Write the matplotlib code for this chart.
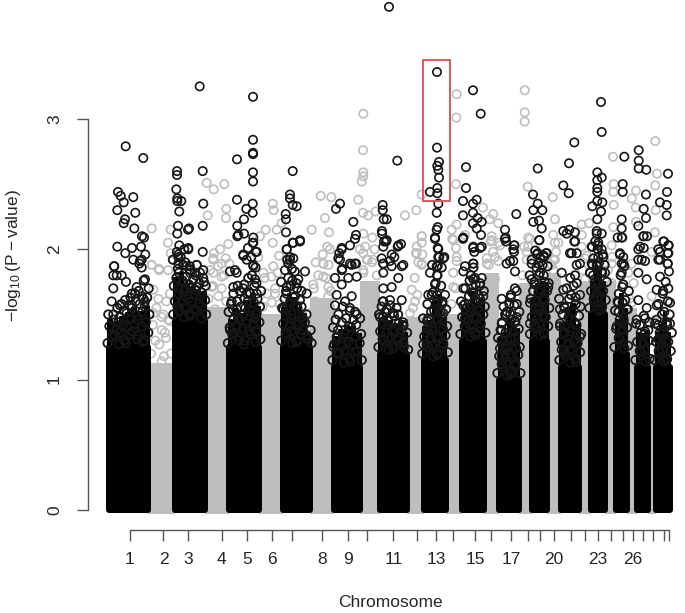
import numpy as np
import matplotlib
matplotlib.use('Agg')
import matplotlib.pyplot as plt

plt.rcParams['font.family'] = ['Liberation Sans', 'DejaVu Sans']
plt.rcParams['mathtext.fontset'] = 'custom'
plt.rcParams['mathtext.rm'] = 'Liberation Sans'
plt.rcParams['mathtext.default'] = 'regular'

# tick position of each chromosome (x axis is cumulative position)
chrom_ticks = [130, 163.5, 188.5, 221.7, 247, 272, 292.5, 322, 348.5, 367, 393.5, 416.7, 436.4, 453, 475.3,
               491.5, 511, 528, 539.6, 553.6, 570.6, 585.5, 598, 611, 623, 632.7, 643, 653, 664, 669]
chrom_labels = ['1', '2', '3', '4', '5', '6', '', '8', '9', '', '11', '', '13', '', '15',
                '', '17', '', '', '20', '', '', '23', '', '', '26', '', '', '', '']

# odd chromosomes: solid part of the cloud
black_start = [106.2, 171.8, 226.5, 280, 331, 377, 421, 459, 496, 528.6, 558, 588, 613, 634, 653]
black_end = [150.6, 208, 262.3, 313.5, 363, 410, 449, 486.7, 521.6, 550.5, 582.4, 608, 630, 651.5, 673]
black_body = [1.25, 1.45, 1.25, 1.25, 1.1, 1.2, 1.15, 1.3, 1.0, 1.3, 1.1, 1.5, 1.2, 1.1, 1.1]

# even chromosomes: solid part
gray_top = [1.13, 1.56, 1.5, 1.63, 1.76, 1.48, 1.5, 1.82, 1.74, 1.82, 1.76, 1.76, 1.55, 1.2]

# rings packed above the solid part, one inner list per vertical strip of a chromosome
black_strips = [
    [[1.28, 1.33, 1.41, 1.46, 1.5], [1.27, 1.34, 1.38, 1.44, 1.5, 1.55], [1.3, 1.36, 1.42, 1.48, 1.53, 1.58],
     [1.28, 1.35, 1.4, 1.47, 1.51, 1.57, 1.63], [1.31, 1.37, 1.43, 1.49, 1.55, 1.6, 1.66],
     [1.29, 1.34, 1.41, 1.46, 1.52, 1.58, 1.62, 1.68], [1.3, 1.36, 1.44, 1.5, 1.56, 1.63, 1.7, 1.76]],
    [[1.5, 1.56, 1.6, 1.66, 1.72, 1.78, 1.85, 1.92, 1.98], [1.48, 1.53, 1.6, 1.64, 1.7, 1.76, 1.82, 1.88, 1.94, 2.0],
     [1.5, 1.55, 1.62, 1.68, 1.73, 1.79, 1.84, 1.9], [1.49, 1.54, 1.6, 1.65, 1.71, 1.77, 1.82, 1.87],
     [1.47, 1.53, 1.58, 1.64, 1.69, 1.74, 1.8], [1.5, 1.56, 1.61, 1.67, 1.72, 1.78]],
    [[1.28, 1.35, 1.4, 1.46, 1.52, 1.58], [1.3, 1.36, 1.41, 1.48, 1.54, 1.6, 1.66, 1.72],
     [1.27, 1.33, 1.4, 1.46, 1.5, 1.56, 1.62, 1.68], [1.3, 1.37, 1.43, 1.49, 1.55, 1.6, 1.67, 1.73, 1.78],
     [1.29, 1.35, 1.42, 1.47, 1.53, 1.59, 1.66, 1.72, 1.8, 1.86], [1.31, 1.37, 1.44, 1.5, 1.56, 1.62, 1.68, 1.74]],
    [[1.3, 1.36, 1.43, 1.49, 1.55, 1.62, 1.68, 1.75], [1.28, 1.35, 1.41, 1.47, 1.54, 1.6, 1.66, 1.72, 1.78, 1.85, 1.92],
     [1.3, 1.37, 1.44, 1.5, 1.57, 1.63, 1.7, 1.76, 1.83], [1.29, 1.35, 1.42, 1.48, 1.55, 1.61, 1.68, 1.74],
     [1.31, 1.38, 1.44, 1.5, 1.56], [1.28, 1.34, 1.38]],
    [[1.15, 1.2, 1.27, 1.33, 1.4, 1.46], [1.13, 1.2, 1.26, 1.32, 1.38, 1.44, 1.5, 1.56],
     [1.16, 1.22, 1.29, 1.35, 1.41, 1.47, 1.53, 1.6], [1.14, 1.21, 1.27, 1.33, 1.4, 1.46, 1.52],
     [1.15, 1.22, 1.28, 1.35, 1.42, 1.47]],
    [[1.25, 1.31, 1.37, 1.44, 1.5, 1.56], [1.23, 1.3, 1.36, 1.42, 1.48, 1.54, 1.6], [1.26, 1.32, 1.38, 1.45, 1.51, 1.57],
     [1.24, 1.3, 1.37, 1.43, 1.49, 1.55], [1.25, 1.32, 1.38, 1.44, 1.5], [1.23, 1.29, 1.36, 1.42]],
    [[1.2, 1.27, 1.33, 1.4, 1.47], [1.18, 1.25, 1.32, 1.38, 1.45, 1.52, 1.58, 1.65],
     [1.2, 1.26, 1.33, 1.4, 1.46, 1.53, 1.6, 1.67, 1.74, 1.8, 1.88],
     [1.19, 1.25, 1.32, 1.39, 1.46, 1.52, 1.58, 1.65, 1.72, 1.8, 1.86, 1.94], [1.21, 1.28, 1.34, 1.41, 1.47, 1.54, 1.6]],
    [[1.35, 1.41, 1.48, 1.54, 1.6], [1.33, 1.4, 1.46, 1.52, 1.58, 1.64, 1.7, 1.76],
     [1.36, 1.42, 1.48, 1.55, 1.61, 1.67, 1.73, 1.8, 1.86], [1.34, 1.4, 1.47, 1.53, 1.59, 1.65, 1.72, 1.78],
     [1.36, 1.43, 1.5, 1.56, 1.62, 1.68, 1.74]],
    [[1.05, 1.12, 1.18, 1.25, 1.32, 1.38, 1.44], [1.03, 1.1, 1.17, 1.24, 1.3, 1.36, 1.43, 1.5, 1.56],
     [1.06, 1.13, 1.19, 1.26, 1.32, 1.39, 1.46, 1.52, 1.58, 1.65], [1.04, 1.11, 1.17, 1.24, 1.31, 1.37, 1.44, 1.5, 1.57, 1.63, 1.7],
     [1.05, 1.12, 1.19, 1.25, 1.32, 1.39, 1.45, 1.52, 1.58]],
    [[1.35, 1.42, 1.48, 1.55, 1.62, 1.68, 1.75, 1.8], [1.34, 1.4, 1.47, 1.54, 1.6, 1.67, 1.73, 1.8, 1.86, 1.93, 1.99],
     [1.36, 1.43, 1.49, 1.56, 1.62, 1.69, 1.75, 1.82, 1.88, 1.94], [1.35, 1.41, 1.48, 1.55, 1.61, 1.68, 1.74, 1.8, 1.87, 1.95]],
    [[1.15, 1.22, 1.29, 1.36, 1.43, 1.5, 1.56, 1.62], [1.13, 1.2, 1.27, 1.34, 1.41, 1.48, 1.55, 1.62, 1.7, 1.78],
     [1.16, 1.23, 1.3, 1.37, 1.44, 1.51, 1.58, 1.65, 1.72, 1.8], [1.14, 1.21, 1.28, 1.35, 1.42, 1.49, 1.56, 1.63]],
    [[1.55, 1.62, 1.68, 1.75, 1.82, 1.88], [1.53, 1.6, 1.67, 1.74, 1.8, 1.87, 1.93, 2.0, 2.06],
     [1.56, 1.63, 1.69, 1.76, 1.83, 1.9, 1.96, 2.03], [1.54, 1.61, 1.68, 1.75, 1.82, 1.88]],
    [[1.25, 1.32, 1.39, 1.46, 1.53, 1.6], [1.24, 1.31, 1.38, 1.45, 1.52, 1.59, 1.66, 1.73, 1.8, 1.87],
     [1.26, 1.33, 1.4, 1.47, 1.54, 1.61, 1.68]],
    [[1.15, 1.22, 1.29, 1.36, 1.43], [1.14, 1.21, 1.28, 1.35, 1.42, 1.49], [1.16, 1.23, 1.3, 1.37, 1.44]],
    [[1.15, 1.22, 1.29, 1.36, 1.43], [1.14, 1.21, 1.28, 1.35, 1.42, 1.5, 1.58, 1.66],
     [1.16, 1.23, 1.3, 1.37, 1.44, 1.52, 1.6, 1.68, 1.75], [1.15, 1.22, 1.29, 1.36, 1.42, 1.5]],
]

gray_strips = [
    [[1.2, 1.3, 1.42, 1.55], [1.18, 1.27, 1.38, 1.5, 1.62], [1.2, 1.32, 1.45, 1.6]],
    [[1.62, 1.72, 1.84], [1.6, 1.7, 1.8, 1.93]],
    [[1.56, 1.66, 1.78], [1.58, 1.7, 1.82, 1.95]],
    [[1.7, 1.8, 1.9], [1.68, 1.78, 1.88, 2.0]],
    [[1.82, 1.92, 2.02], [1.8, 1.9, 2.0]],
    [[1.55, 1.65, 1.78, 1.9]],
    [[1.58, 1.7, 1.82]],
    [[1.88, 1.98, 2.06]],
    [[1.8, 1.92, 2.02]],
    [[1.88, 1.98]],
    [[1.84, 1.95]],
    [[1.84, 1.94]],
    [[1.62, 1.74]],
    [[1.3, 1.45]],
]

black_upper = [
    (389, 3.86), (199.7, 3.25), (253, 3.17), (125.7, 2.79), (143.3, 2.70), (253, 2.84), (253, 2.74), (253, 2.73),
    (237, 2.69), (177, 2.60), (177, 2.57), (202.7, 2.60), (292.7, 2.60), (253, 2.59), (253, 2.52), (118, 2.44),
    (120.7, 2.41), (133.3, 2.40), (123.7, 2.36), (117.3, 2.30), (135.3, 2.28), (125, 2.23), (123.7, 2.20),
    (134.3, 2.16), (144, 2.09), (142, 2.10), (117.3, 2.02), (132, 2.01), (125.3, 1.97), (141, 2.02), (145.3, 1.96),
    (141.7, 1.92), (139.3, 1.89), (114.3, 1.87), (176.3, 2.46), (177.3, 2.39), (177.3, 2.37), (181.3, 2.37),
    (179.3, 2.29), (178, 2.18), (177.3, 2.12), (189, 2.16), (188, 2.15), (179.3, 2.03), (188.3, 2.01), (202.7, 2.18),
    (203.3, 2.35), (202.7, 1.98), (196.7, 1.88), (178.3, 1.94), (237, 2.38), (246.3, 2.31), (252.7, 2.35),
    (252.7, 2.28), (244, 2.23), (237.3, 2.18), (237.3, 2.10), (244, 2.12), (253.3, 2.09), (252.7, 2.05), (248, 2.01),
    (255.7, 1.98), (243.3, 1.95), (251.3, 1.94), (253.3, 1.88), (290, 2.42), (290, 2.39), (292.7, 2.34), (296.7, 2.33),
    (285.7, 2.27), (286, 2.23), (286, 2.13), (300, 2.07), (292.7, 2.05), (286.7, 2.00), (290, 1.94), (293.3, 1.93),
    (288.3, 1.89), (340, 2.35), (336, 2.31), (353.3, 2.21), (356, 2.11), (355, 2.08), (350, 2.03), (341.7, 2.01),
    (339.3, 1.97), (340, 1.92), (356, 1.89), (351.7, 1.88), (342.3, 1.85), (382.7, 2.34), (382.7, 2.30), (383.7, 2.23),
    (382, 2.14), (382, 2.12), (384, 2.06), (383.3, 2.02), (381.7, 1.93), (383.3, 1.89),
    (437, 3.36), (473, 3.22), (480.7, 3.04), (437, 2.78), (601, 3.13), (601.7, 2.90), (574.3, 2.82), (397.3, 2.68),
    (439, 2.67), (437.3, 2.64), (438.3, 2.61), (439, 2.55), (466, 2.63), (537.7, 2.62), (569, 2.66), (624.3, 2.71),
    (638.7, 2.76), (638.7, 2.68), (638.7, 2.62), (646.3, 2.61), (668, 2.58), (597.3, 2.59), (601.7, 2.55), (597.3, 2.53),
    (563.3, 2.49), (568.7, 2.43), (622.7, 2.5), (622.7, 2.44), (466, 2.47), (437.3, 2.47), (437.3, 2.43), (430, 2.44),
    (597.3, 2.47), (597.3, 2.44), (646, 2.42), (667, 2.44), (533, 2.42), (463, 2.37), (476.7, 2.38), (473, 2.35),
    (438.3, 2.35), (660, 2.36), (666.7, 2.34), (597.3, 2.37), (602.3, 2.36), (592.3, 2.33), (643.7, 2.31), (537.7, 2.35),
    (533.3, 2.30), (542.3, 2.30), (436.7, 2.28), (473, 2.28), (463, 2.26), (516.3, 2.27), (601, 2.29), (646, 2.24),
    (666.7, 2.26), (477.7, 2.24), (481.7, 2.21), (473, 2.20), (476.7, 2.16), (533.3, 2.21), (539, 2.22), (541.7, 2.16),
    (505, 2.15), (563.3, 2.14), (569.3, 2.15), (575, 2.13), (597.3, 2.23), (596.7, 2.14), (601.7, 2.12), (621.7, 2.23),
    (621.7, 2.16), (622.3, 2.09), (617.7, 2.09), (638.3, 2.18), (643.7, 2.10), (647, 2.10), (481, 2.11), (463, 2.08),
    (436.7, 2.15), (435, 2.08), (437.7, 2.17), (505, 2.08), (506, 2.06), (514.3, 2.03), (514, 1.98), (539.3, 2.07),
    (574.3, 2.06), (592.3, 2.02), (598.3, 2.05), (601.7, 2.0), (664, 2.06), (668.7, 2.03), (658.3, 2.0), (667.7, 1.97),
    (643.7, 2.01), (638.3, 2.0), (473.3, 2.01), (480, 2.01), (474.3, 1.98), (620, 1.96), (623.3, 1.94), (437.7, 2.01),
    (438.3, 1.94), (444.3, 1.94), (397.7, 2.02), (401, 2.04), (386, 2.06), (386.7, 2.23), (394.3, 1.94), (390, 1.91),
    (403.3, 1.88), (513.3, 1.91), (506.7, 1.89), (536.7, 1.96), (546, 1.97), (531.7, 1.89), (538.3, 1.89), (570, 1.97),
    (576.7, 1.97), (598.3, 1.94), (591.7, 1.89), (638.3, 1.92), (658.3, 1.92), (667.7, 1.89), (621.7, 1.89), (645, 1.91),
    (473.3, 1.89), (465, 1.87), (437.7, 1.87), (576.7, 1.88), (596.7, 1.88),
]

black_lower = [
    (114, 1.87), (113.3, 1.80), (116.7, 1.80), (121.7, 1.80), (126, 1.75), (113.3, 1.70), (111.7, 1.60), (133.3, 1.92),
    (140, 1.91), (141.7, 1.86), (145, 1.77), (136.7, 1.71), (135, 1.66), (125, 1.61), (131.7, 1.57), (141.7, 1.64),
    (120, 1.57), (145, 1.60), (178.3, 1.96), (188.3, 2.0), (196.7, 1.88), (203.3, 1.84), (204, 1.75), (200, 1.82),
    (190, 1.82), (186.7, 1.87), (178.3, 1.89), (196.7, 1.71), (183.3, 1.74), (190, 1.70), (238.3, 2.11), (243.3, 1.96),
    (253.3, 2.05), (253.3, 1.87), (230, 1.83), (235, 1.84), (246.7, 1.92), (256.7, 1.98), (236.7, 1.82), (233.3, 1.71),
    (243.3, 1.70), (231.7, 1.60), (246.7, 1.66), (255, 1.77), (256.7, 1.66), (236.7, 1.54), (230, 1.38), (256.7, 1.51),
    (286.7, 2.0), (293.3, 2.05), (300, 2.06), (305, 1.83), (306.7, 1.66), (290, 1.92), (285, 1.84), (298.3, 1.77),
    (286.7, 1.71), (295, 1.64), (303.3, 1.46), (308.3, 1.31), (283.3, 1.54), (341.7, 2.0), (338.3, 1.93), (341.7, 1.84),
    (350, 1.89), (355, 1.89), (356.7, 1.79), (335, 1.78), (341.7, 1.73), (348.3, 1.78), (336.7, 1.65), (351.7, 1.64),
    (335, 1.57), (350, 1.55), (356.7, 1.50), (336.7, 1.33), (333.3, 1.25), (338.3, 1.21), (383.3, 1.89), (383.3, 1.82),
    (383.3, 1.70), (382.7, 1.60), (385, 1.52), (380, 1.48), (386.7, 2.07), (398.3, 2.03), (391.7, 1.96), (401.7, 1.87),
    (391.7, 1.87), (398.3, 1.78), (391.7, 1.71), (401.7, 1.61), (390, 1.61), (403.3, 1.41), (393.3, 1.51), (403.3, 1.28),
    (435, 2.09), (438.3, 2.0), (443.3, 1.93), (430, 1.82), (436.7, 1.87), (445, 1.65), (428.3, 1.65), (428.3, 1.47),
    (426.7, 1.36), (443.3, 1.51), (423.3, 1.27), (443.3, 1.27), (435, 1.73), (463.3, 2.09), (473.3, 2.02), (481.7, 2.02),
    (463.3, 1.83), (473.3, 1.89), (473.3, 1.77), (463.3, 1.70), (463.3, 1.57), (481.7, 1.78), (473.3, 1.66), (483.3, 1.64),
    (465, 1.47), (505.7, 2.09), (514.3, 2.03), (513.3, 2.0), (510, 1.91), (515, 1.83), (501.7, 1.62), (516.7, 1.68),
    (505, 1.50), (501.7, 1.38), (500, 1.24), (516.7, 1.48), (501.7, 1.18), (539.3, 2.07), (537.7, 1.97), (546.7, 1.97),
    (531.7, 1.92), (531.7, 1.77), (530, 1.59), (548.3, 1.71), (530, 1.43), (566.7, 2.12), (575, 2.06), (571.7, 1.97),
    (580, 1.89), (561.7, 1.82), (576.7, 1.74), (563.3, 1.69), (580, 1.65), (560, 1.54), (560, 1.41), (561.7, 1.23),
    (580, 1.33), (596.7, 2.12), (591.7, 2.02), (603.3, 1.94), (590, 1.82), (605, 1.82), (621.7, 2.09), (620, 1.97),
    (623.3, 1.89), (621.7, 1.82), (622.3, 1.71), (618.3, 1.59), (616.7, 1.41), (626.7, 1.54), (640, 2.02), (643.3, 2.10),
    (641.7, 1.92), (638.3, 1.82), (646.7, 1.77), (638.3, 1.61), (646.7, 1.55), (636.7, 1.46), (645, 1.47), (648.3, 1.38),
    (663.3, 2.06), (668.3, 2.03), (660, 1.98), (668.3, 1.97), (660, 1.92), (667.7, 1.89), (669, 1.83), (660, 1.79),
    (668.3, 1.70), (656.7, 1.69), (656.7, 1.57), (670, 1.59), (656.7, 1.46), (670, 1.43), (658.3, 1.31),
]

gray_upper = [
    (363.3, 3.04), (363, 2.76), (363.3, 2.59), (363.3, 2.56), (361.7, 2.52), (206.7, 2.51), (224.3, 2.50), (213.7, 2.46),
    (320.7, 2.41), (331.3, 2.40), (358.3, 2.38), (272.7, 2.35), (273.7, 2.30), (226.3, 2.31), (226, 2.24), (207.7, 2.26),
    (325, 2.24), (363, 2.28), (368.3, 2.26), (375.7, 2.29), (311.7, 2.15), (329, 2.13), (151.7, 2.16), (170.7, 2.15),
    (168, 2.05), (170.7, 1.97), (265.7, 2.15), (276.7, 2.15), (272.7, 2.05), (228.3, 2.04), (220, 2.0), (214, 1.97),
    (327.3, 2.02), (322.7, 1.96), (363.3, 1.97), (360, 2.0), (372.3, 2.09), (363.3, 2.12), (159, 1.85), (151.7, 1.88),
    (213.3, 1.93), (229.3, 1.89), (218.3, 1.87), (273.3, 1.87), (258.3, 1.94), (281.7, 2.2), (260, 2.1), (323.3, 1.89),
    (366.7, 1.92), (456.7, 3.19), (456.3, 3.01), (524.7, 3.22), (524.7, 3.05), (524.7, 2.98), (655.3, 2.83), (613, 2.71),
    (657, 2.58), (456, 2.50), (527.7, 2.48), (613.7, 2.50), (613.3, 2.44), (655.3, 2.49), (636, 2.45), (631.7, 2.39),
    (552.7, 2.40), (421.7, 2.42), (416.3, 2.30), (405, 2.26), (483, 2.32), (613.7, 2.34), (635.7, 2.32), (655.7, 2.30),
    (493.3, 2.27), (489.7, 2.23), (498.3, 2.20), (555, 2.23), (456.7, 2.19), (581.7, 2.19), (589, 2.20), (636, 2.21),
    (451.7, 2.15), (452.3, 2.08), (421.7, 2.10), (416.7, 2.02), (421.7, 2.05), (416, 1.97), (422.3, 1.96), (456, 2.01),
    (465, 2.11), (491.7, 2.10), (500, 2.03), (530, 2.08), (528.3, 2.02), (553.3, 2.11), (555, 2.05), (581.7, 2.11),
    (613.3, 2.17), (655, 2.13), (495, 1.94), (486.7, 1.93), (456.7, 1.94), (498.3, 1.91), (553.3, 1.92), (581.7, 2.02),
    (611.7, 2.03), (421.7, 1.89),
]

gray_lower = [
    (151.7, 1.88), (159, 1.84), (153.3, 1.69), (168.3, 1.84), (170, 1.66), (213.3, 1.82), (213.3, 1.92), (221.7, 1.89),
    (211.7, 1.71), (221.7, 1.79), (218.3, 1.64), (271.7, 1.79), (275, 1.66), (263.3, 1.82), (323.3, 1.89), (323.3, 1.79),
    (328.3, 1.71), (313.3, 1.73), (328.3, 1.64), (315, 1.60), (310, 1.51), (330, 1.56), (161.7, 1.48), (153.3, 1.51),
    (168.3, 1.46), (215, 1.54), (271.7, 1.59), (310, 1.41), (363.3, 1.84), (373.3, 1.92), (370, 1.71), (165, 1.36),
    (161.7, 1.14), (158.3, 1.05), (421.7, 2.10), (416.7, 1.97), (421.7, 1.88), (453.3, 2.07), (456.7, 1.91), (411.7, 1.69),
    (415, 1.60), (421.7, 1.46), (410, 1.51), (413.3, 1.36), (453.3, 1.71), (491.7, 2.07), (498.3, 2.05), (486.7, 1.89),
    (495, 1.77), (488.3, 1.64), (528.3, 2.09), (526.7, 1.98), (555, 1.92), (553.3, 1.84), (558.3, 2.05), (555, 1.66),
    (585, 1.93), (585, 1.77), (611.7, 1.89), (611.7, 1.74), (628.3, 1.82), (631.7, 1.59), (631.7, 1.89), (651.7, 1.98),
    (651.7, 1.64),
]

# red box round the chromosome 13 peak
box_x = [423.5, 450.3]
box_y = [2.37, 3.45]

DARK = '#161616'
GRAY = '#bebebe'
RED = '#e2555a'
TEXT = '#262626'
AXIS = '#555555'

# rings in a strip do not sit in a straight line
stagger = [-2.6, 1.7, -0.8, 2.8, -1.9, 0.6, 2.1, -2.9, 1.1]


def strip_centres(strips, left, right, inset):
    # the strips of one chromosome sit side by side across its width
    if len(strips) == 1:
        return [(left + right) / 2]
    return list(np.linspace(left + inset, right - inset, len(strips)))


def strip_rings(strips, left, right, inset):
    px, py = [], []
    for k, (x, heights) in enumerate(zip(strip_centres(strips, left, right, inset), strips)):
        for i, h in enumerate(heights):
            px.append(x + stagger[(i + 3 * k) % len(stagger)])
            py.append(h)
    return px, py


fig = plt.figure(figsize=(6.85, 6.13), dpi=100)
ax = fig.add_axes([0, 0, 1, 1])
ax.set_xlim(0, 685)
ax.set_ylim(-0.7905, 3.9125)
ax.patch.set_alpha(0)

gray_start = black_end[:-1]
gray_end = black_start[1:]
for s, e, t in zip(gray_start, gray_end, gray_top):
    ax.bar(s - 3, t + 0.03, width=e - s + 6, bottom=-0.03, align='edge', color=GRAY, linewidth=0, zorder=1)

gray_pts = np.array(gray_upper + gray_lower)
ax.scatter(gray_pts[:, 0], gray_pts[:, 1], s=36, facecolors='none', edgecolors=GRAY, linewidths=1.2, zorder=2)
for s, e, strips in zip(gray_start, gray_end, gray_strips):
    px, py = strip_rings(strips, s, e, 3)
    ax.scatter(px, py, s=36, facecolors='none', edgecolors=GRAY, linewidths=1.2, zorder=2)

for s, e, b in zip(black_start, black_end, black_body):
    # thick round edge gives the cloud its soft corners
    ax.bar(s + 3, b, width=e - s - 6, bottom=0, align='edge', color='black', edgecolor='black', linewidth=4.3,
           joinstyle='round', zorder=3)

for s, e, strips in zip(black_start, black_end, black_strips):
    centres = strip_centres(strips, s, e, 4)
    w = centres[1] - centres[0]
    # the lower part of every strip is nearly solid, only its upper part shows single rings
    for x, heights in zip(centres, strips):
        top = heights[int(len(heights) * 0.6)]
        ax.bar(x - w / 2 + 1, top, width=w - 2, bottom=0, align='edge', color='black', edgecolor='black',
               linewidth=1.5, joinstyle='round', zorder=3)
    px, py = strip_rings(strips, s, e, 4)
    ax.scatter(px, py, s=36, facecolors='none', edgecolors=DARK, linewidths=1.3, zorder=4)

black_pts = np.array(black_upper + black_lower)
ax.scatter(black_pts[:, 0], black_pts[:, 1], s=36, facecolors='none', edgecolors=DARK, linewidths=1.2, zorder=4)

ax.plot([box_x[0], box_x[1], box_x[1], box_x[0], box_x[0]], [box_y[0], box_y[0], box_y[1], box_y[1], box_y[0]],
        color=RED, lw=1.4, zorder=5)

# spine positions reset the ticks, so they come first
for side in ['top', 'right']:
    ax.spines[side].set_visible(False)
ax.spines['left'].set_position(('data', 88.5))
ax.spines['bottom'].set_position(('data', -0.153))

ax.set_yticks([0, 1, 2, 3])
ax.set_yticklabels(['0', '1', '2', '3'], rotation=90, va='center', fontsize=12.5, color=TEXT)
ax.tick_params(axis='y', length=8, width=1.0, pad=11, color=AXIS)
ax.set_xticks(chrom_ticks)
ax.set_xticklabels(chrom_labels, fontsize=12.5, color=TEXT)
ax.tick_params(axis='x', length=8, width=1.0, pad=8, color=AXIS)

ax.spines['left'].set_bounds(0, 3)
ax.spines['bottom'].set_bounds(chrom_ticks[0], chrom_ticks[-1])
for side in ['left', 'bottom']:
    ax.spines[side].set_color(AXIS)
    ax.spines[side].set_linewidth(1.0)

ax.text(390, -0.71, 'Chromosome', ha='center', va='center', fontsize=12.5, color=TEXT)
ax.text(14, 1.95, r'$-\log_{10}(\mathrm{P}-\mathrm{value})$', rotation=90, ha='center', va='center',
        fontsize=12.5, color=TEXT)

fig.savefig('out.png', dpi=100)
